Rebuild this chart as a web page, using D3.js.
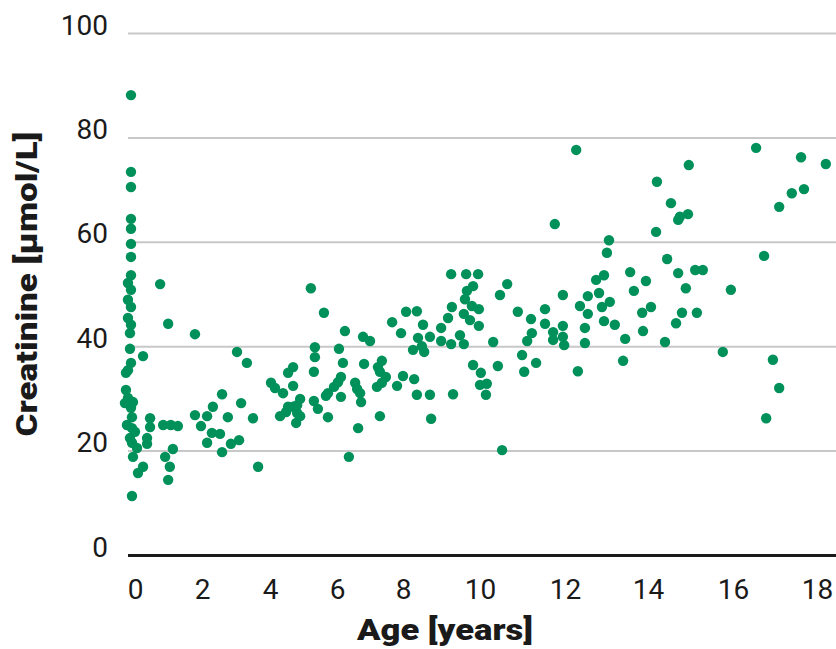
<!DOCTYPE html>
<html>
<head>
<meta charset="utf-8">
<script src="https://cdn.jsdelivr.net/npm/d3@7/dist/d3.min.js"></script>
<style>
  html, body { margin: 0; padding: 0; background: #ffffff; }
  svg { display: block; }
</style>
</head>
<body>
<svg id="chart" width="836" height="649"></svg>
<script>
// ---------------- data ----------------
const ages = [
  -0.12,-0.12,-0.12,-0.12,-0.12,-0.12,-0.12,-0.12,-0.21,-0.12,
  -0.21,-0.12,-0.21,-0.12,-0.15,-0.15,-0.12,-0.21,-0.27,-0.27,
  -0.21,-0.06,-0.30,-0.12,-0.09,-0.24,-0.09,0.00,-0.15,-0.09,
  0.06,-0.06,-0.09,0.24,0.24,0.09,
  0.75,0.99,0.45,0.45,0.36,0.36,0.84,1.07,1.28,1.13,0.90,1.04,0.99,
  1.79,1.79,1.97,2.15,2.32,2.59,2.76,3.15,3.50,2.29,2.53,2.15,2.59,2.85,3.09,3.03,3.32,3.65,
  4.03,4.15,4.39,4.69,4.69,4.54,5.22,5.61,6.24,6.79,7.00,5.34,5.34,5.31,6.06,6.18,6.82,
  6.12,6.03,5.91,5.73,5.67,6.12,6.55,6.61,6.70,6.73,5.31,5.43,5.73,4.90,4.81,4.69,4.54,
  4.30,4.48,4.81,4.90,4.78,6.64,7.30,6.36,7.36,7.24,7.30,7.48,7.36,7.21,7.67,7.94,8.00,7.82,
  8.08,8.36,8.52,8.39,8.70,8.26,8.49,8.55,8.29,8.36,8.70,8.73,
  8.99,8.99,9.25,9.48,9.58,9.17,9.27,9.58,9.74,9.79,9.97,9.97,9.25,9.64,9.95,9.82,9.66,9.61,
  9.30,9.82,10.02,10.00,10.16,10.14,10.31,10.42,10.52,10.64,10.47,
  10.89,11.20,11.22,11.11,11.53,11.53,11.72,11.72,11.95,11.95,11.98,10.99,11.04,11.32,11.95,11.76,12.27,12.31,
  12.75,12.94,12.82,13.08,12.89,12.55,12.36,12.55,12.94,12.48,12.48,13.01,13.06,13.20,13.45,13.40,
  13.57,13.95,13.66,14.07,13.86,13.88,
  14.19,14.21,14.54,14.71,14.75,14.94,14.96,14.45,14.71,15.11,15.29,14.89,15.95,14.80,14.66,15.15,14.40,15.76,
  16.55,16.74,16.95,17.10,16.79,17.10,17.40,17.69,17.62,18.21
];
const creatinine = [
  88.1,73.4,70.5,64.4,62.5,59.6,57.1,53.6,52.1,50.8,
  48.9,47.5,45.4,44.1,42.5,39.5,36.8,35.4,34.9,31.6,
  30.1,29.3,29.1,28.2,26.4,24.9,24.3,23.6,22.4,21.5,
  20.5,18.8,11.3,38.1,16.9,15.7,
  51.9,44.3,26.2,24.5,22.4,21.3,24.9,24.9,24.7,20.3,18.8,16.9,14.4,
  42.3,26.8,24.7,26.6,28.4,30.8,26.4,29.1,26.2,23.4,23.2,21.5,19.7,21.3,22.0,38.9,36.8,16.9,
  33.0,32.0,31.0,32.4,36.0,34.9,51.1,46.4,42.9,41.8,41.0,39.8,37.9,35.1,39.5,36.8,36.6,
  34.1,33.1,32.2,31.0,30.5,30.3,33.0,31.8,31.0,29.3,29.5,28.0,26.4,29.9,28.7,28.4,28.4,
  26.6,27.4,27.2,26.6,25.3,24.3,26.6,18.8,37.2,36.0,35.1,34.1,33.0,32.2,44.6,42.5,34.3,32.4,
  46.6,46.7,44.1,41.6,41.8,39.3,40.0,38.9,33.7,30.7,30.7,26.1,
  43.5,41.0,40.4,42.1,40.4,45.4,47.5,46.2,45.0,47.7,47.1,43.9,53.8,53.8,53.8,51.5,50.6,49.0,
  30.8,36.4,34.9,32.6,32.8,30.7,40.8,36.2,20.1,51.9,49.8,
  46.6,45.2,42.5,41.0,47.1,44.3,42.7,41.2,43.9,41.8,40.2,38.3,35.1,36.8,49.8,63.4,77.6,35.2,
  52.7,53.6,50.2,48.5,47.5,49.6,47.7,46.2,44.8,43.5,40.6,57.9,60.3,44.1,41.4,37.2,
  54.2,52.5,50.6,47.5,46.4,42.9,
  61.9,71.5,67.4,64.2,64.8,65.3,74.7,56.7,54.0,54.6,54.6,51.1,50.8,46.4,44.4,46.4,40.8,38.9,
  78.0,57.3,37.4,32.0,26.2,66.7,69.3,70.1,76.2,74.9
];
const xTicks = [0, 2, 4, 6, 8, 10, 12, 14, 16, 18];
const yTicks = [0, 20, 40, 60, 80, 100];
const xTitle = "Age [years]";
const yTitle = "Creatinine [µmol/L]";

// ---------------- layout ----------------
const W = 836, H = 649;
const plotLeft = 128, plotRight = 836, plotTop = 33, plotBottom = 555;
const fontFamily = "Roboto, 'Liberation Sans', 'DejaVu Sans', sans-serif";
const dotColor = "#00905a";

const svg = d3.select("#chart");

// x positions of the tick labels in the reference are not evenly spaced,
// so a polylinear scale reproduces them.
const x = d3.scaleLinear()
  .domain(xTicks)
  .range([135, 202, 270, 337, 403, 480, 565, 648, 733, 817]);

const y = d3.scaleLinear()
  .domain([0, 100])
  .range([plotBottom, plotTop]);

// ---------------- y axis with grid ----------------
const yAxis = d3.axisLeft(y)
  .tickValues(yTicks)
  .tickSize(-(plotRight - plotLeft))
  .tickPadding(20)
  .tickFormat(d3.format("d"));

const gy = svg.append("g")
  .attr("transform", `translate(${plotLeft},0)`)
  .call(yAxis);
gy.select(".domain").remove();
gy.selectAll(".tick line")
  .attr("stroke", d => d === 0 ? "#1a1a1a" : "#c8c8c8")
  .attr("stroke-width", d => d === 0 ? 3 : 2);
gy.selectAll(".tick text")
  .attr("dy", "0.04em")
  .attr("fill", "#1a1a1a")
  .style("font-family", fontFamily)
  .style("font-size", "28px");

// ---------------- x axis ----------------
const xAxis = d3.axisBottom(x)
  .tickValues(xTicks)
  .tickSize(0)
  .tickPadding(44)
  .tickFormat(d3.format("d"));

const gx = svg.append("g")
  .attr("transform", `translate(0,${plotBottom})`)
  .call(xAxis);
gx.select(".domain").remove();
gx.selectAll(".tick text")
  .attr("dy", "0")
  .attr("fill", "#1a1a1a")
  .style("font-family", fontFamily)
  .style("font-size", "28px");

// ---------------- points ----------------
const pts = ages.map((a, i) => ({ age: a, val: creatinine[i] }));
svg.append("g")
  .selectAll("circle")
  .data(pts)
  .join("circle")
  .attr("cx", d => x(d.age))
  .attr("cy", d => y(d.val))
  .attr("r", 5.2)
  .attr("fill", dotColor);

// ---------------- axis titles ----------------
svg.append("text")
  .attr("x", 445)
  .attr("y", 640)
  .attr("text-anchor", "middle")
  .attr("fill", "#1a1a1a")
  .attr("textLength", 176)
  .attr("lengthAdjust", "spacingAndGlyphs")
  .style("font-family", fontFamily)
  .style("font-weight", "900")
  .style("font-size", "29px")
  .text(xTitle);

svg.append("text")
  .attr("transform", "translate(37,284) rotate(-90)")
  .attr("text-anchor", "middle")
  .attr("fill", "#1a1a1a")
  .attr("textLength", 305)
  .attr("lengthAdjust", "spacingAndGlyphs")
  .style("font-family", fontFamily)
  .style("font-weight", "900")
  .style("font-size", "30px")
  .text(yTitle);
</script>
</body>
</html>
